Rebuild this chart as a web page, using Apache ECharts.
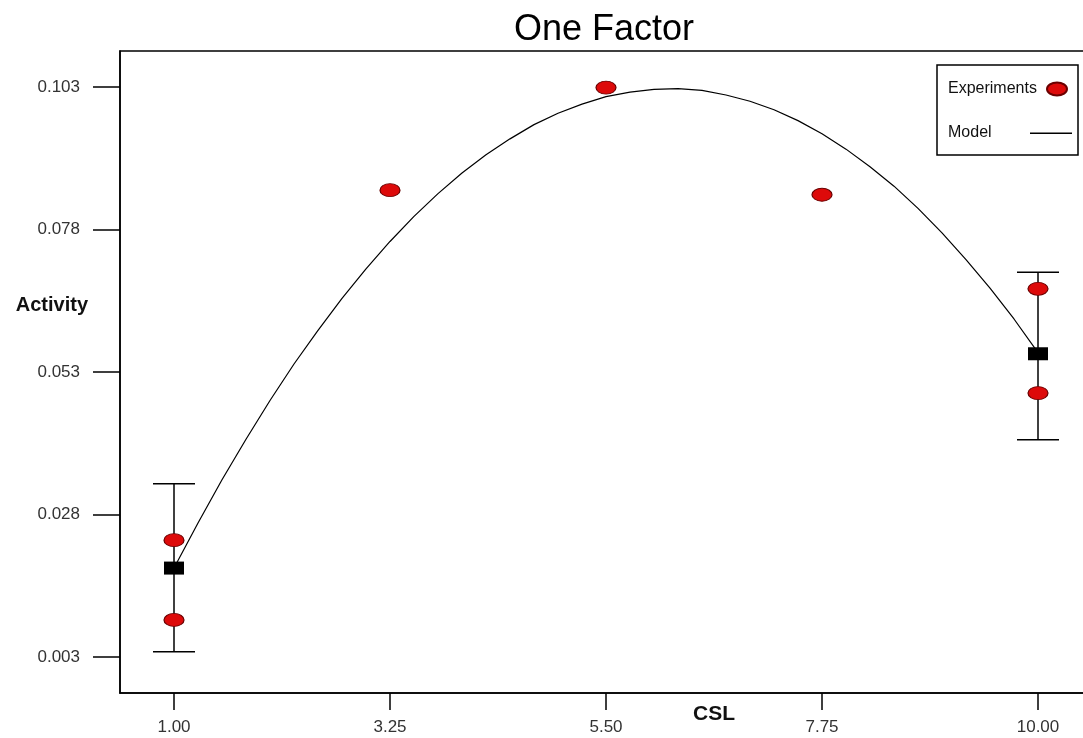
<!DOCTYPE html>
<html>
<head>
<meta charset="utf-8">
<script src="https://cdn.jsdelivr.net/npm/echarts@6/dist/echarts.min.js"></script>
<style>html,body{margin:0;padding:0;background:#fff}#c{width:1083px;height:738px}</style>
</head>
<body>
<div id="c"></div>
<script>
// Experiment points
const expX = [1, 1, 3.25, 5.5, 7.75, 10, 10];
const expY = [0.0235, 0.0095, 0.0849, 0.1029, 0.0841, 0.0676, 0.0493];
// Design-point means with error bars
const meanX = [1, 10];
const meanY = [0.0186, 0.0562];
const barLow = [0.0039, 0.0411];
const barHigh = [0.0334, 0.0705];
// Model curve
const modelX = [1, 1.25, 1.5, 1.75, 2, 2.25, 2.5, 2.75, 3, 3.25, 3.5, 3.75, 4, 4.25, 4.5, 4.75, 5, 5.25, 5.5, 5.75,
                6, 6.25, 6.5, 6.75, 7, 7.25, 7.5, 7.75, 8, 8.25, 8.5, 8.75, 9, 9.25, 9.5, 9.75, 10];
const modelY = [0.0186, 0.0265, 0.0341, 0.0412, 0.0480, 0.0544, 0.0603, 0.0659, 0.0711, 0.0759, 0.0803, 0.0843,
                0.0879, 0.0911, 0.0939, 0.0964, 0.0984, 0.1000, 0.1013, 0.1021, 0.1026, 0.1027, 0.1024, 0.1016,
                0.1005, 0.0990, 0.0971, 0.0948, 0.0921, 0.0890, 0.0856, 0.0817, 0.0774, 0.0727, 0.0677, 0.0623, 0.0564];
// Tick labels
const xTicks = [1.00, 3.25, 5.50, 7.75, 10.00];
const yTicks = [0.003, 0.028, 0.053, 0.078, 0.103];

const chart = echarts.init(document.getElementById('c'));
const font = '"Liberation Sans", Arial, sans-serif';

chart.setOption({
  animation: false,
  backgroundColor: '#fff',
  title: {
    text: 'One Factor', left: 509, top: 7,
    textStyle: { fontFamily: font, fontSize: 36, fontWeight: 'normal', color: '#000' }
  },
  legend: {
    data: [
      { name: 'Experiments', icon: 'path://M0,0M42,13M17,6.5A10,6.5,0,1,0,37,6.5A10,6.5,0,1,0,17,6.5Z' },
      { name: 'Model', icon: 'path://M0,0M42,13M0,6H42V7.5H0Z', itemStyle: { color: '#000', borderWidth: 0 } }
    ],
    orient: 'vertical', align: 'right', left: 937, top: 65,
    padding: [16, 5, 14, 11], itemGap: 28, itemWidth: 42, itemHeight: 13,
    borderColor: '#000', borderWidth: 1.5, backgroundColor: '#fff',
    formatter: '{a|{name}}',
    textStyle: { fontFamily: font, fontSize: 16, color: '#111', rich: { a: { width: 77, height: 18, align: 'left', fontFamily: font, fontSize: 16, color: '#111' } } }
  },
  grid: {
    left: 120, top: 51, right: -27, bottom: 45,
    show: true, borderColor: '#000', borderWidth: 1.5,
    outerBoundsMode: 'none', containLabel: false
  },
  xAxis: {
    type: 'value', min: 0.4375, max: 10.75,
    name: '{s|}{a|CSL}', nameLocation: 'middle', nameGap: 11, nameMoveOverlap: false,
    nameTextStyle: { rich: { s: { width: 198 }, a: { fontFamily: font, fontSize: 21, fontWeight: 'bold', color: '#111' } } },
    axisLine: { show: true, onZero: false, lineStyle: { color: '#000', width: 1.5 } },
    axisTick: { show: true, inside: false, length: 17, customValues: xTicks, lineStyle: { color: '#000', width: 1.5 } },
    axisLabel: { customValues: xTicks, margin: 26, fontFamily: font, fontSize: 17, color: '#333', formatter: v => v.toFixed(2) },
    splitLine: { show: false }
  },
  yAxis: {
    type: 'value', min: -0.003316, max: 0.109316,
    name: '{a|Activity}\n{s|}', nameLocation: 'middle', nameRotate: 0, nameGap: 32, nameMoveOverlap: false,
    nameTextStyle: { rich: { s: { height: 134 }, a: { fontFamily: font, fontSize: 20, fontWeight: 'bold', color: '#111' } } },
    axisLine: { show: true, onZero: false, lineStyle: { color: '#000', width: 1.5 } },
    axisTick: { show: true, inside: false, length: 27, customValues: yTicks, lineStyle: { color: '#000', width: 1.5 } },
    axisLabel: { customValues: yTicks, margin: 40, fontFamily: font, fontSize: 17, color: '#333', formatter: v => v.toFixed(3) },
    splitLine: { show: false }
  },
  series: [
    {
      name: 'Error', type: 'custom', z: 2,
      data: meanX.map((x, i) => [x, barLow[i], barHigh[i]]),
      renderItem: function (params, api) {
        const x = api.value(0);
        const lo = api.coord([x, api.value(1)]);
        const hi = api.coord([x, api.value(2)]);
        const hw = 21;
        const st = { stroke: '#000', lineWidth: 1.5 };
        return {
          type: 'group',
          children: [
            { type: 'line', shape: { x1: lo[0], y1: lo[1], x2: hi[0], y2: hi[1] }, style: st },
            { type: 'line', shape: { x1: lo[0] - hw, y1: lo[1], x2: lo[0] + hw, y2: lo[1] }, style: st },
            { type: 'line', shape: { x1: hi[0] - hw, y1: hi[1], x2: hi[0] + hw, y2: hi[1] }, style: st }
          ]
        };
      }
    },
    {
      name: 'Model', type: 'line', z: 3, smooth: false, symbol: 'none', showSymbol: false,
      data: modelX.map((x, i) => [x, modelY[i]]),
      lineStyle: { color: '#000', width: 1.2 },
      itemStyle: { color: '#000' }
    },
    {
      name: 'Mean', type: 'scatter', z: 4, symbol: 'rect', symbolSize: [20, 13],
      data: meanX.map((x, i) => [x, meanY[i]]),
      itemStyle: { color: '#000', opacity: 1 }
    },
    {
      name: 'Experiments', type: 'scatter', z: 5, symbol: 'circle', symbolSize: [20, 13],
      data: expX.map((x, i) => [x, expY[i]]),
      itemStyle: { color: '#dd0a0a', borderColor: '#6a0000', borderWidth: 1, opacity: 1 }
    }
  ]
});
</script>
</body>
</html>
